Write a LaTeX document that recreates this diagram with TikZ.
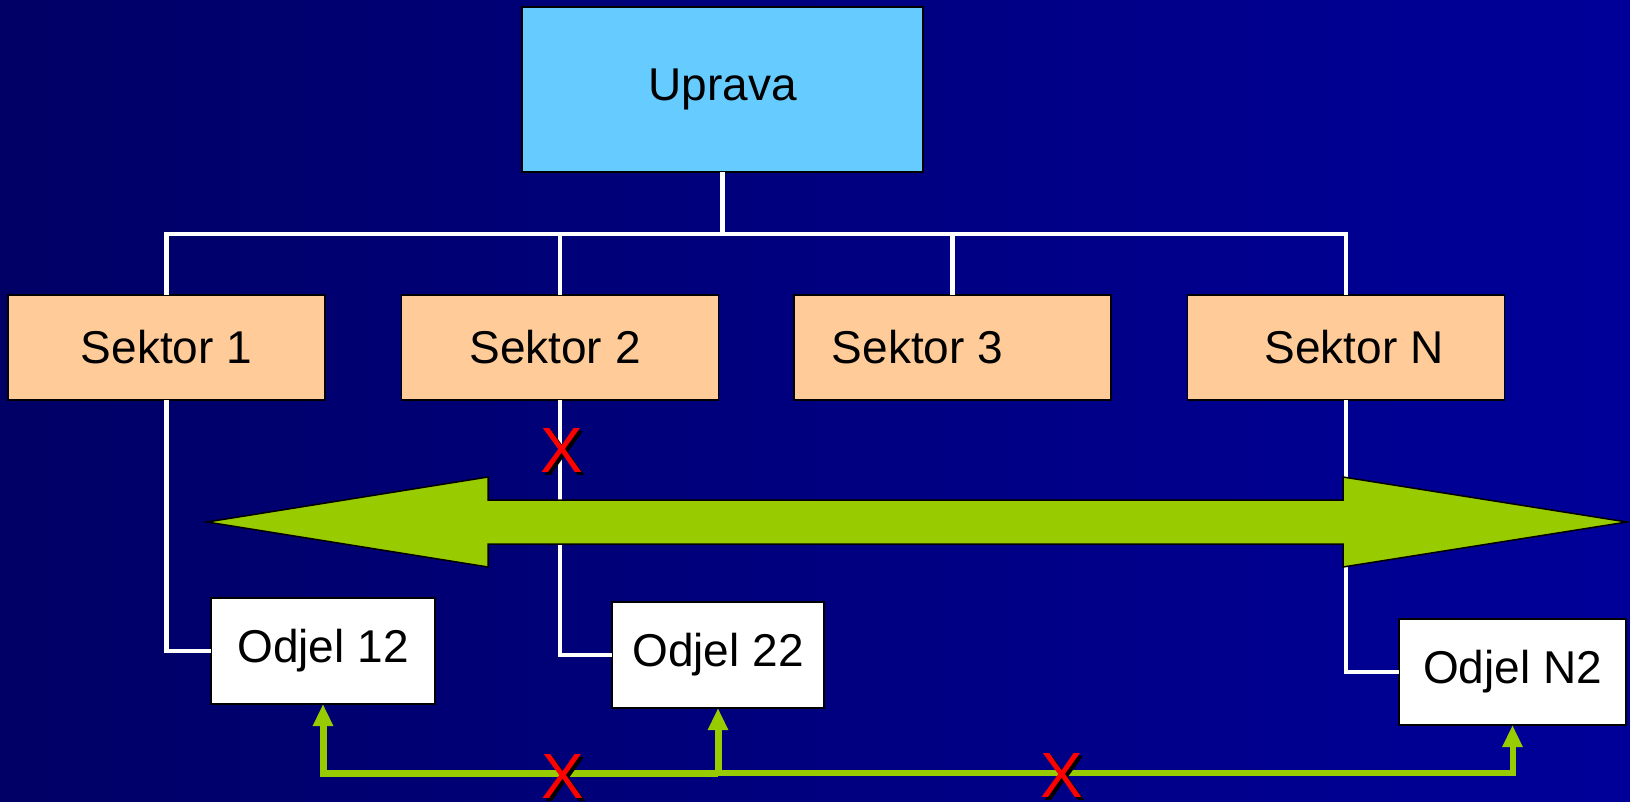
\documentclass[tikz,border=0pt]{standalone}
\usepackage{fontspec}
\setmainfont{Liberation Sans}
\usetikzlibrary{arrows.meta}

\definecolor{navyleft}{HTML}{000066}
\definecolor{navyright}{HTML}{000099}
\definecolor{skyblue}{HTML}{66CCFF}
\definecolor{peach}{HTML}{FFCC99}
\definecolor{arrowgreen}{HTML}{99CC00}

\tikzset{
  box/.style={draw=black, line width=1.5pt, inner sep=0pt, outer sep=0pt,
    font=\fontsize{46}{55}\selectfont},
  sektor/.style={box, fill=peach, minimum width=317pt, minimum height=105pt},
  odjel/.style={box, fill=white, minimum height=106pt},
  wire/.style={white, line width=4.5pt},
  link/.style={arrowgreen, line width=7pt, -{Triangle[width=19pt,length=22pt]}},
  xmark/.style={text=red, inner sep=0pt, font=\fontsize{64}{70}\selectfont}
}

% red X with a black drop shadow
\newcommand{\nope}[2]{%
  \node[xmark, text=black, xshift=3pt, yshift=-3pt] (#1s) at #2 {X};
  \node[xmark] (#1) at #2 {X};}

\begin{document}
\begin{tikzpicture}[x=1pt, y=-1pt]
  \shade[left color=navyleft, right color=navyright] (0,0) rectangle (1630,801);
  \useasboundingbox (0,0) rectangle (1630,801);

  \node[box, fill=skyblue, minimum width=401pt, minimum height=165pt] (uprava) at (722.5,89.5) {Uprava};

  \node[sektor] (sek1) at (166.5,347.5) {Sektor 1};
  \node[sektor] (sek2) at (560,347.5) {\hspace*{-10pt}Sektor 2};
  \node[sektor] (sek3) at (952.5,347.5) {\hspace*{-70pt}Sektor 3};
  \node[sektor] (sekN) at (1346,347.5) {\hspace*{16pt}Sektor N};

  \node[odjel, minimum width=224pt] (odj12) at (323,651) {Odjel 12};
  \node[odjel, minimum width=212pt] (odj22) at (718,655) {Odjel 22};
  \node[odjel, minimum width=227pt] (odjN2) at (1512.5,672) {Odjel N2};

  \coordinate (bus) at (0,234);
  \draw[wire] (uprava.south) -- (uprava.south |- bus);
  \draw[wire] (sek1.north) -- (sek1.north |- bus) -- (sekN.north |- bus) -- (sekN.north);
  \foreach \s in {sek2,sek3}
    \draw[wire] (\s.north) -- (\s.north |- bus);
  \draw[wire] (sek1.south) |- (odj12.west);
  \draw[wire] (sek2.south) |- (odj22.west);
  \draw[wire] (sekN.south) |- (odjN2.west);

  % wide two-headed arrow
  \filldraw[fill=arrowgreen, draw=black, line width=1.5pt]
    (207,522) -- (488,477) -- (488,500) -- (1343,500) -- (1343,477) -- (1627,522)
    -- (1343,567) -- (1343,544) -- (488,544) -- (488,567) -- cycle;

  \coordinate (hub) at (odj22.south |- 0,773);
  \draw[link] (hub) -| (odj12.south);
  \draw[link] (hub) -- (odj22.south);
  \draw[link, line width=6pt] (hub) -| (odjN2.south);

  \nope{x1}{(562,450)}
  \nope{x2}{(563,776)}
  \nope{x3}{(1062,775)}
\end{tikzpicture}
\end{document}
